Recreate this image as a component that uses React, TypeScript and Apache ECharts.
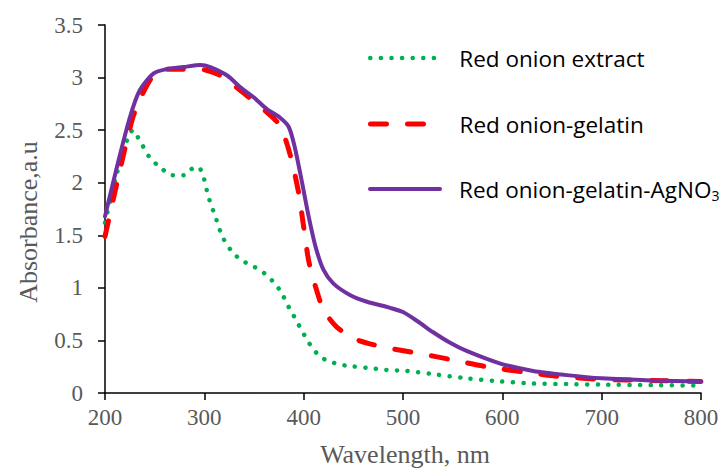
import React, { useEffect, useRef } from "react";
import * as echarts from "echarts";

// ---- data ----
const xTicks = [200, 300, 400, 500, 600, 700, 800];
const yTicks = [0, 0.5, 1, 1.5, 2, 2.5, 3, 3.5];

const seriesNames = ["Red onion extract", "Red onion-gelatin", "Red onion-gelatin-AgNO3"];

const extractWl = [200, 205, 212, 222, 228, 235, 245, 255, 268, 279, 287, 294, 299, 304, 311, 318, 323, 329, 338, 348, 356, 364, 371, 378, 383, 388, 393, 398, 403, 408, 415, 423, 433, 443, 463, 483, 504, 530, 564, 598, 631, 665, 700, 750, 800];
const extractAbs = [1.62, 1.82, 2.09, 2.40, 2.50, 2.40, 2.24, 2.15, 2.07, 2.07, 2.13, 2.15, 2.06, 1.87, 1.68, 1.49, 1.41, 1.33, 1.26, 1.21, 1.17, 1.11, 1.04, 0.95, 0.85, 0.77, 0.68, 0.60, 0.51, 0.44, 0.36, 0.31, 0.28, 0.26, 0.24, 0.22, 0.21, 0.18, 0.14, 0.11, 0.09, 0.085, 0.08, 0.075, 0.07];

const gelatinWl = [200, 215, 228, 238, 247, 255, 272, 289, 302, 316, 336, 353, 363, 373, 381, 388, 395, 400, 405, 412, 420, 433, 450, 470, 490, 514, 547, 584, 621, 655, 700, 750, 800];
const gelatinAbs = [1.49, 2.12, 2.62, 2.85, 3.00, 3.07, 3.08, 3.08, 3.07, 3.02, 2.88, 2.75, 2.67, 2.58, 2.43, 2.21, 1.90, 1.58, 1.26, 1.01, 0.79, 0.63, 0.52, 0.46, 0.42, 0.38, 0.32, 0.25, 0.20, 0.16, 0.13, 0.12, 0.11];

const agWl = [200, 212, 225, 235, 249, 262, 279, 296, 306, 323, 336, 350, 363, 376, 385, 391, 398, 405, 412, 420, 430, 447, 463, 487, 500, 515, 530, 547, 564, 598, 631, 665, 700, 750, 800];
const agAbs = [1.68, 2.15, 2.62, 2.88, 3.04, 3.08, 3.10, 3.12, 3.10, 3.02, 2.91, 2.81, 2.70, 2.62, 2.53, 2.34, 2.02, 1.68, 1.39, 1.17, 1.04, 0.93, 0.87, 0.81, 0.77, 0.68, 0.58, 0.48, 0.40, 0.28, 0.21, 0.17, 0.14, 0.12, 0.11];

const colors = ["#00B050", "#FF0000", "#7030A0"];

const pairs = (xs: number[], ys: number[]) => xs.map((x, i) => [x, ys[i]]);

export default function App() {
  const ref = useRef<HTMLDivElement>(null);
  useEffect(() => {
    document.body.style.margin = "0";
    if (!ref.current) return;
    const chart = echarts.init(ref.current, null, { renderer: "svg" });
    const axisFont = "Liberation Serif";
    const legendFont = "Open Sans";
    const lineStyles = [
      { width: 4.5, type: [0.1, 10.5], cap: "round" },
      { width: 5, type: [16, 21], cap: "round" },
      { width: 4, type: "solid", cap: "round" },
    ];
    const legendTops = [45, 111, 176];
    chart.setOption({
      animation: false,
      backgroundColor: "#ffffff",
      grid: { left: 105, right: 27, top: 25, bottom: 75, containLabel: false },
      xAxis: {
        type: "value",
        min: xTicks[0],
        max: xTicks[xTicks.length - 1],
        interval: xTicks[1] - xTicks[0],
        splitLine: { show: false },
        axisLine: { lineStyle: { color: "#000", width: 1.5 } },
        axisTick: { show: true, length: 7, inside: false, lineStyle: { color: "#000", width: 1.5 } },
        axisLabel: { margin: 13, color: "#595959", fontFamily: axisFont, fontSize: 23 },
      },
      yAxis: {
        type: "value",
        min: yTicks[0],
        max: yTicks[yTicks.length - 1],
        interval: yTicks[1] - yTicks[0],
        splitLine: { show: false },
        axisLine: { show: true, lineStyle: { color: "#000", width: 1.5 } },
        axisTick: { show: true, length: 7, inside: false, lineStyle: { color: "#000", width: 1.5 } },
        axisLabel: { margin: 22, color: "#595959", fontFamily: axisFont, fontSize: 23 },
      },
      legend: seriesNames.map((n, i) => ({
        data: [n],
        left: 368,
        top: legendTops[i],
        padding: 0,
        itemWidth: 70,
        itemHeight: 14,
        lineStyle: lineStyles[i],
        itemStyle: { color: "transparent", borderColor: "transparent", borderWidth: 0, opacity: 0 },
        formatter: (name: string) => (name.endsWith("AgNO3") ? name.slice(0, -1) + "{sub|3}" : name),
        textStyle: {
          fontFamily: legendFont,
          fontSize: 22.5,
          lineHeight: 26,
          color: "#000",
          padding: [0, 0, 0, 14],
          rich: {
            sub: { fontFamily: legendFont, fontSize: 14, lineHeight: 14, color: "#000", verticalAlign: "bottom", padding: [0, 0, 0, 0] },
          },
        },
      })),
      graphic: [
        {
          type: "text",
          x: 28,
          y: 222,
          rotation: Math.PI / 2,
          style: {
            text: "Absorbance,a.u",
            font: "26px 'Liberation Serif'",
            fill: "#595959",
            textAlign: "center",
            textVerticalAlign: "middle",
            align: "center",
            verticalAlign: "middle",
          },
        },
        {
          type: "text",
          x: 405,
          y: 454,
          style: {
            text: "Wavelength, nm",
            font: "26px 'Liberation Serif'",
            fill: "#595959",
            textAlign: "center",
            textVerticalAlign: "middle",
            align: "center",
            verticalAlign: "middle",
          },
        },
      ],
      series: [
        { name: seriesNames[0], data: pairs(extractWl, extractAbs) },
        { name: seriesNames[1], data: pairs(gelatinWl, gelatinAbs) },
        { name: seriesNames[2], data: pairs(agWl, agAbs) },
      ].map((s, i) => ({
        ...s,
        type: "line",
        symbol: "none",
        smooth: 0.25,
        color: colors[i],
        lineStyle: { color: colors[i], ...lineStyles[i] },
        z: 2 + i,
      })),
    });
    return () => chart.dispose();
  }, []);
  return <div ref={ref} style={{ width: 728, height: 468 }} />;
}
